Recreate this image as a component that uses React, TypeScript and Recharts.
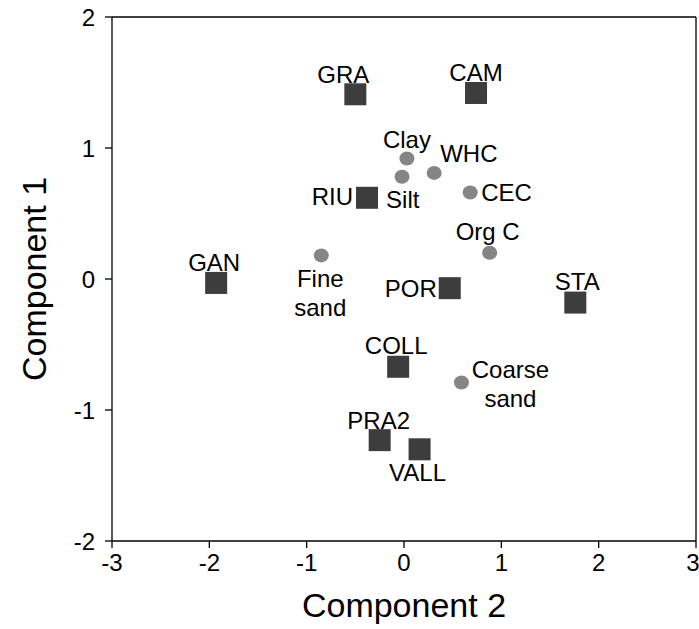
import React from 'react';
import {
  ScatterChart,
  Scatter,
  XAxis,
  YAxis,
  ReferenceLine,
  Label,
} from 'recharts';

// Sampling sites (component scores)
const siteNames = ['GRA', 'CAM', 'RIU', 'GAN', 'POR', 'STA', 'COLL', 'PRA2', 'VALL'];
const siteComp2 = [-0.5, 0.74, -0.38, -1.93, 0.47, 1.76, -0.06, -0.25, 0.16];
const siteComp1 = [1.41, 1.42, 0.62, -0.03, -0.07, -0.18, -0.67, -1.23, -1.3];

// Soil variables (loadings)
const varNames = ['Clay', 'Silt', 'WHC', 'CEC', 'Org C', 'Fine sand', 'Coarse sand'];
const varComp2 = [0.03, -0.02, 0.31, 0.68, 0.88, -0.85, 0.59];
const varComp1 = [0.92, 0.78, 0.81, 0.66, 0.2, 0.18, -0.79];

const xTicks = [-3, -2, -1, 0, 1, 2, 3];
const yTicks = [-2, -1, 0, 1, 2];

const FONT = '"Liberation Sans", Arial, Helvetica, sans-serif';

type Placement = { dx: number; dy: number; anchor: 'start' | 'middle' | 'end'; lines: string[] };

// Where each point's label sits relative to its marker
const placement: Record<string, Placement> = {
  GRA: { dx: -12, dy: -20, anchor: 'middle', lines: ['GRA'] },
  CAM: { dx: 0, dy: -21, anchor: 'middle', lines: ['CAM'] },
  RIU: { dx: -14, dy: -1, anchor: 'end', lines: ['RIU'] },
  GAN: { dx: -2, dy: -21, anchor: 'middle', lines: ['GAN'] },
  POR: { dx: -13, dy: 0, anchor: 'end', lines: ['POR'] },
  STA: { dx: 2, dy: -21, anchor: 'middle', lines: ['STA'] },
  COLL: { dx: -2, dy: -21, anchor: 'middle', lines: ['COLL'] },
  PRA2: { dx: -1, dy: -20, anchor: 'middle', lines: ['PRA2'] },
  VALL: { dx: -2, dy: 23, anchor: 'middle', lines: ['VALL'] },
  Clay: { dx: 0, dy: -19, anchor: 'middle', lines: ['Clay'] },
  Silt: { dx: -16, dy: 23, anchor: 'start', lines: ['Silt'] },
  WHC: { dx: 6, dy: -20, anchor: 'start', lines: ['WHC'] },
  CEC: { dx: 11, dy: 0, anchor: 'start', lines: ['CEC'] },
  'Org C': { dx: -2, dy: -21, anchor: 'middle', lines: ['Org C'] },
  'Fine sand': { dx: -1, dy: 23, anchor: 'middle', lines: ['Fine', 'sand'] },
  'Coarse sand': { dx: 49, dy: -13, anchor: 'middle', lines: ['Coarse', 'sand'] },
};

const siteData = siteNames.map((name, i) => ({ name, comp2: siteComp2[i], comp1: siteComp1[i] }));
const varData = varNames.map((name, i) => ({ name, comp2: varComp2[i], comp1: varComp1[i] }));

const LINE_GAP = 29;
const LABEL_SIZE = 24;

const PointLabel = ({ cx, cy, name }: { cx: number; cy: number; name: string }) => {
  const p = placement[name];
  return (
    <text
      x={cx + p.dx}
      y={cy + p.dy}
      textAnchor={p.anchor}
      fontFamily={FONT}
      fontSize={LABEL_SIZE}
      fill="#000"
    >
      {p.lines.map((line, k) => (
        <tspan key={k} x={cx + p.dx} dy={k === 0 ? '0.36em' : LINE_GAP}>
          {line}
        </tspan>
      ))}
    </text>
  );
};

const SiteShape = (props: any) => {
  const { cx, cy, payload } = props;
  return (
    <g>
      <rect x={cx - 11} y={cy - 11} width={22} height={22} fill="#3d3d3d" />
      <PointLabel cx={cx} cy={cy} name={payload.name} />
    </g>
  );
};

const VarShape = (props: any) => {
  const { cx, cy, payload } = props;
  return (
    <g>
      <ellipse cx={cx} cy={cy} rx={7.5} ry={7} fill="#858585" />
      <PointLabel cx={cx} cy={cy} name={payload.name} />
    </g>
  );
};

const XTitle = (props: any) => {
  const { x, y, width } = props.viewBox;
  return (
    <text x={x + width / 2} y={y + 64} textAnchor="middle" dominantBaseline="central" fontFamily={FONT} fontSize={34} fill="#000">
      Component 2
    </text>
  );
};

const YTitle = (props: any) => {
  const { y, height } = props.viewBox;
  const cx = 34;
  const cy = y + height / 2;
  return (
    <text
      x={cx}
      y={cy}
      textAnchor="middle"
      dominantBaseline="central"
      transform={`rotate(-90, ${cx}, ${cy})`}
      fontFamily={FONT}
      fontSize={34}
      fill="#000"
    >
      Component 1
    </text>
  );
};

export default function App() {
  return (
    <div style={{ position: 'absolute', left: 0, top: 0, width: 699, height: 629, background: '#fff' }}>
      <ScatterChart width={699} height={629} margin={{ top: 17, right: 3, bottom: 0, left: 0 }}>
        <XAxis
          type="number"
          dataKey="comp2"
          domain={[-3, 3]}
          ticks={xTicks}
          height={88}
          tickSize={7}
          tickMargin={6}
          axisLine={{ stroke: '#000', strokeWidth: 1.3 }}
          tickLine={{ stroke: '#000', strokeWidth: 1.3 }}
          tick={{ fill: '#000', fontSize: 24, fontFamily: FONT }}
          allowDataOverflow
        >
          <Label content={<XTitle />} />
        </XAxis>
        <YAxis
          type="number"
          dataKey="comp1"
          domain={[-2, 2]}
          ticks={yTicks}
          width={112}
          tickSize={7}
          tickMargin={10}
          axisLine={{ stroke: '#000', strokeWidth: 1.3 }}
          tickLine={{ stroke: '#000', strokeWidth: 1.3 }}
          tick={{ fill: '#000', fontSize: 24, fontFamily: FONT }}
          allowDataOverflow
        >
          <Label content={<YTitle />} />
        </YAxis>
        <ReferenceLine y={2} stroke="#000" strokeWidth={1.3} />
        <ReferenceLine x={3} stroke="#000" strokeWidth={1.3} />
        <Scatter data={siteData} shape={<SiteShape />} isAnimationActive={false} />
        <Scatter data={varData} shape={<VarShape />} isAnimationActive={false} />
      </ScatterChart>
    </div>
  );
}
